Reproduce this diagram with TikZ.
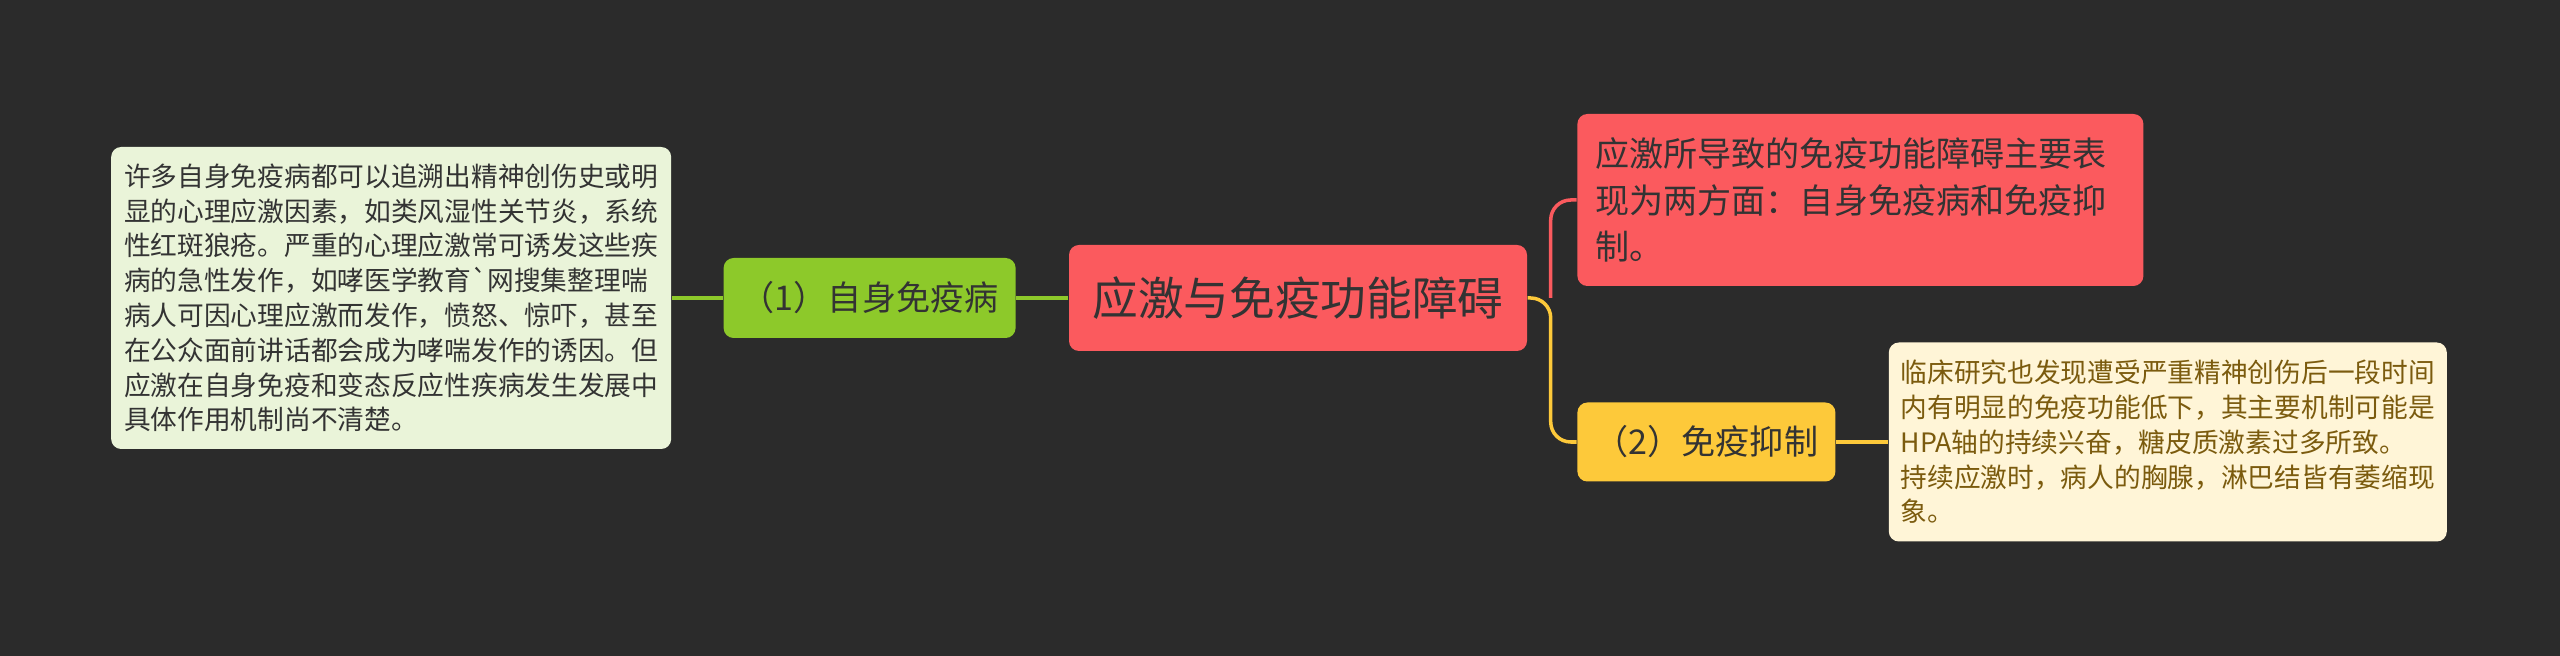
\documentclass[tikz,border=0pt]{standalone}
\usepackage{fontspec}
\setmainfont{Noto Sans CJK SC}
\usepackage{xcolor}
\usepackage{tikz}
\usetikzlibrary{positioning}
\definecolor{mmbg}{HTML}{2B2B2B}
\definecolor{mmtext}{HTML}{333333}
\definecolor{mmred}{HTML}{FB5A5E}
\definecolor{mmgreen}{HTML}{8DC92A}
\definecolor{mmgreenlt}{HTML}{EAF4D9}
\definecolor{mmyellow}{HTML}{FDC93A}
\definecolor{mmyellowlt}{HTML}{FFF5D7}
\definecolor{mmbrown}{HTML}{7B5B0E}
\tikzset{
  mbox/.style={rounded corners=0.1cm, align=center, inner sep=0pt, text=mmtext},
  mtopic/.style={mbox, fill=mmred, minimum width=4.58cm, minimum height=1.06cm, font=\fontsize{13}{16}\selectfont},
  msub/.style={mbox, font=\fontsize{9.7}{13.2}\selectfont},
  mnote/.style={mbox, align=left, font=\fontsize{7.6}{9.9}\selectfont},
  mline/.style={line width=1pt},
}

\begin{document}
\begin{tikzpicture}[node distance=5mm]
    \fill[mmbg] (0,0) rectangle (25.6,-6.56);
    \useasboundingbox (0,0) rectangle (25.6,-6.56);
    \node[mtopic] (topic) at (12.98,-2.98) {应激与免疫功能障碍};
    \node[msub, fill=mmgreen, minimum width=2.92cm, minimum height=0.8cm, left=0.52cm of topic] (auto) {（1）自身免疫病};
    \node[mnote, fill=mmgreenlt, minimum width=5.6cm, minimum height=3.02cm, left=0.51cm of auto] (autonote) {许多自身免疫病都可以追溯出精神创伤史或明\\显的心理应激因素，如类风湿性关节炎，系统\\性红斑狼疮。严重的心理应激常可诱发这些疾\\病的急性发作，如哮医学教育\textasciigrave 网搜集整理喘\\病人可因心理应激而发作，愤怒、惊吓，甚至\\在公众面前讲话都会成为哮喘发作的诱因。但\\应激在自身免疫和变态反应性疾病发生发展中\\具体作用机制尚不清楚。};
    \node[msub, fill=mmred, align=left, text width=5.3cm, inner xsep=0.18cm, minimum height=1.72cm, right=0.49cm of topic, yshift=0.98cm] (summary) {应激所导致的免疫功能障碍主要表\\现为两方面：自身免疫病和免疫抑\\制。};
    \node[msub, fill=mmyellow, minimum width=2.58cm, minimum height=0.79cm, right=0.49cm of topic, yshift=-1.44cm] (immu) {（2）免疫抑制};
    \node[mnote, fill=mmyellowlt, text=mmbrown, minimum width=5.58cm, minimum height=1.99cm, right=0.52cm of immu] (immunote) {临床研究也发现遭受严重精神创伤后一段时间\\内有明显的免疫功能低下，其主要机制可能是\\HPA轴的持续兴奋，糖皮质激素过多所致。\\持续应激时，病人的胸腺，淋巴结皆有萎缩现\\象。};
    \coordinate[right=0.23cm of topic] (fork);
    \draw[mline, mmgreen] (topic) -- (auto);
    \draw[mline, mmgreen] (auto) -- (autonote);
    \draw[mline, mmred, rounded corners=0.2cm] (fork) |- (summary);
    \draw[mline, mmyellow, rounded corners=0.2cm] (topic) -- (fork) |- (immu);
    \draw[mline, mmyellow] (immu) -- (immunote);
  \end{tikzpicture}
\end{document}
